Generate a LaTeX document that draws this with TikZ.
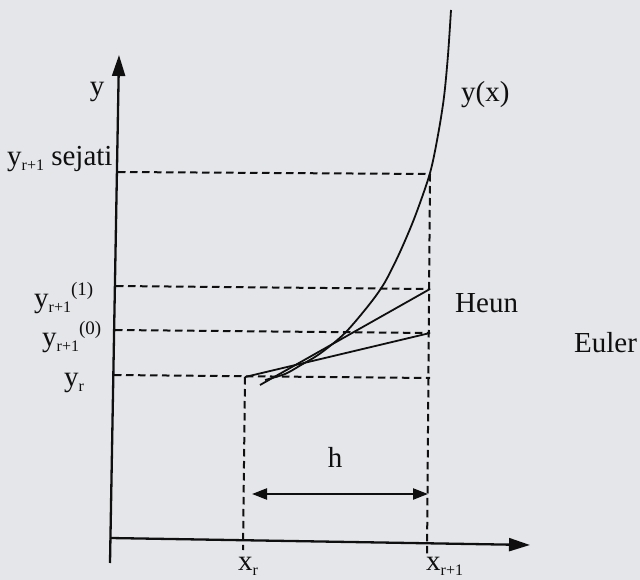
\documentclass[tikz,border=0pt]{standalone}
\usepackage{fontspec}
\setmainfont{Liberation Serif}
\usetikzlibrary{arrows.meta}
\definecolor{paper}{RGB}{229,230,233}
\definecolor{ink}{RGB}{15,15,15}
\newcommand\lsub[1]{\raisebox{-5pt}{\fontsize{16}{16}\selectfont #1}}
\newcommand\lsup[1]{\raisebox{12pt}{\fontsize{19}{19}\selectfont #1}}
\begin{document}
\begin{tikzpicture}[x=1pt,y=-1pt,
  lbl/.style={inner sep=0pt, text=ink, font=\fontsize{29}{29}\selectfont},
  axisline/.style={draw=ink, line width=2.3pt},
  guide/.style={draw=ink, line width=2pt, dash pattern=on 7.5pt off 4.5pt},
  graph/.style={draw=ink, line width=1.8pt},
  bigtip/.style={-{Triangle[length=21pt,width=13pt]}},
  htip/.style={{Triangle[length=15pt,width=11pt]}-{Triangle[length=15pt,width=11pt]}}]
\fill[paper] (0,0) rectangle (640,580);
\useasboundingbox (0,0) rectangle (640,580);

% key points
\coordinate (ybot) at (110,563);
\coordinate (ytop) at (119,55);
\coordinate (O) at (110,538);
\coordinate (xend) at (530,545);
\coordinate (ys) at (118,172);
\coordinate (S) at (430,174);
\coordinate (y1) at (116,286);
\coordinate (H) at (430,289);
\coordinate (y0) at (115,330);
\coordinate (E) at (430,333);
\coordinate (yr) at (114,375);
\coordinate (A) at (245,377);
\coordinate (R2) at (430,378);
\coordinate (xrb) at (243,550);
\coordinate (xr1b) at (427,557);
\coordinate (Hs) at (260,385);
\coordinate (h1) at (252,494);
\coordinate (h2) at (428,494);

% axes
\draw[axisline, bigtip] (ybot) -- (ytop);
\draw[axisline, bigtip] (O) -- (xend);

% guides
\draw[guide] (ys) -- (S);
\draw[guide] (y1) -- (H);
\draw[guide] (y0) -- (E);
\draw[guide] (yr) -- (R2);
\draw[guide] (S) -- (xr1b);
\draw[guide] (A) -- (xrb);

% Euler and Heun lines
\draw[graph] (A) -- (E);
\draw[graph] (Hs) -- (H);

% true solution curve
\draw[graph] plot[smooth, tension=0.5] coordinates
  {(265,380) (285,374) (300,365.6) (320,353.6) (345,333) (370,303.6) (385,282)
   (400,252) (415,216.5) (430,173) (438,135) (444,97) (448,55) (451,10)};

% step width
\draw[axisline, htip] (h1) -- (h2);

% labels
\node[lbl, anchor=base] (ly) at (97,96) {y};
\node[lbl, anchor=base west] (lsej) at (7,166) {y\lsub{r+1} sejati};
\node[lbl, anchor=base west] (lyx) at (461,102) {y(x)};
\node[lbl, anchor=base west] (ly1) at (34,307) {y\lsub{r+1}\lsup{(1)}};
\node[lbl, anchor=base west] (ly0) at (42,346) {y\lsub{r+1}\lsup{(0)}};
\node[lbl, anchor=base west] (lyr) at (64,386) {y\lsub{r}};
\node[lbl, anchor=base west] (lheun) at (455,312) {Heun};
\node[lbl, anchor=base west] (leuler) at (574,352) {Euler};
\node[lbl, anchor=base] (lh) at (335,467) {h};
\node[lbl, anchor=base west] (lxr) at (238,570) {x\lsub{r}};
\node[lbl, anchor=base west] (lxr1) at (426,570) {x\lsub{r+1}};
\end{tikzpicture}
\end{document}
